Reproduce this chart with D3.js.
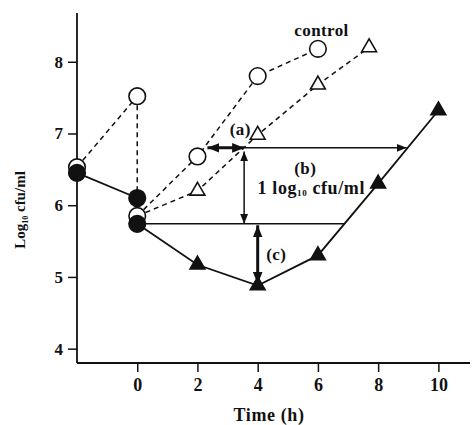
<!DOCTYPE html>
<html><head><meta charset="utf-8">
<script src="https://cdn.jsdelivr.net/npm/d3@7"></script>
<style>
body{margin:0;background:#fff;}
text{font-family:"Liberation Serif","DejaVu Serif",serif;font-weight:bold;fill:#111;}
</style></head>
<body><svg id="c" width="473" height="425"></svg>
<script>
// ---- data ----
const xTicks = [0, 2, 4, 6, 8, 10];
const yTicks = [4, 5, 6, 7, 8];
// pre-exposure / exposure (control) open circles, dashed
const ctrlPreT = [-2, 0];
const ctrlPreV = [6.53, 7.52];
const ctrlDropV = [7.52, 6.1];          // vertical dashed at t=0
// regrowth control, open circles, dashed
const ctrlT = [0, 2, 4, 6];
const ctrlV = [5.85, 6.68, 7.8, 8.18];
// open triangles, dashed
const openTriT = [0, 2, 4, 6, 7.7];
const openTriV = [5.85, 6.2, 6.98, 7.68, 8.2];
// filled circles, solid
const fillCircT = [-2, 0, 0];
const fillCircV = [6.45, 6.1, 5.74];
// filled triangles, solid
const fillTriT = [0, 2, 4, 6, 8, 10];
const fillTriV = [5.74, 5.17, 4.88, 5.3, 6.3, 7.32];
// annotation values
const refLevel = 5.74, refEnd = 6.88;
const aLevel = 6.8, aStart = 2.33, aEnd = 3.55, bEnd = 8.95;
const cTime = 4.0, cBottom = 4.9;

const svg = d3.select("#c");
const x = d3.scaleLinear().domain([-2, 11.05]).range([77, 470]);
const y = d3.scaleLinear().domain([3.8, 8.68]).range([363, 13]);

// arrow markers
const defs = svg.append("defs");
function mk(id, size){
  defs.append("marker").attr("id", id).attr("viewBox","0 0 10 10").attr("refX",10).attr("refY",5)
    .attr("markerWidth",size).attr("markerHeight",size).attr("orient","auto-start-reverse")
    .attr("markerUnits","userSpaceOnUse")
    .append("path").attr("d","M0,1 L10,5 L0,9 Z").attr("fill","#111");
}
mk("ah", 10); mk("ahb", 12);

// axes
const yAxis = d3.axisLeft(y).tickValues(yTicks).tickSize(9).tickPadding(5).tickFormat(d3.format("d"));
const xAxis = d3.axisBottom(x).tickValues(xTicks).tickSize(9).tickPadding(6).tickFormat(d3.format("d"));
const gy = svg.append("g").attr("transform", `translate(${x(-2)},0)`).call(yAxis);
const gx = svg.append("g").attr("transform", `translate(0,${y(3.8)})`).call(xAxis);
[gx, gy].forEach(g => {
  g.select(".domain").attr("d", null);
  g.selectAll(".tick line").attr("stroke","#111").attr("stroke-width",1.5);
  g.selectAll(".tick text").attr("fill","#111");
});
gy.selectAll(".tick text").style("font-size","17px");
gx.selectAll(".tick text").style("font-size","18px");
svg.append("line").attr("x1",x(-2)).attr("x2",x(-2)).attr("y1",y(8.68)).attr("y2",y(3.8))
  .attr("stroke","#111").attr("stroke-width",1.8);
svg.append("line").attr("x1",x(-2)).attr("x2",x(11.05)).attr("y1",y(3.8)).attr("y2",y(3.8))
  .attr("stroke","#111").attr("stroke-width",1.8);

// axis titles
svg.append("text").attr("x", 269).attr("y", 421).attr("text-anchor","middle")
  .style("font-size","18px").style("letter-spacing","0.6px").text("Time  (h)");
const yl = svg.append("text").attr("transform","translate(25,210) rotate(-90)").attr("text-anchor","middle")
  .style("font-size","15px");
yl.append("tspan").text("Log");
yl.append("tspan").style("font-size","8px").attr("dy",3).text("10");
yl.append("tspan").attr("dy",-3).text(" cfu/ml");

const line = d3.line().x(d => x(d[0])).y(d => y(d[1]));
const zip = (t, v) => t.map((d, i) => [d, v[i]]);
function path(data, dashed, w){
  svg.append("path").datum(data).attr("d", line).attr("fill","none").attr("stroke","#111")
    .attr("stroke-width", w || 1.5).attr("stroke-dasharray", dashed ? "5,4" : null);
}
path(zip(ctrlPreT, ctrlPreV), true);
path([[0, ctrlDropV[0]], [0, ctrlDropV[1]]], true);
path(zip(ctrlT, ctrlV), true);
path(zip(openTriT, openTriV), true);
path(zip(fillCircT, fillCircV), false, 1.8);
path(zip(fillTriT, fillTriV), false, 1.8);

// annotations
function seg(x1, y1, x2, y2, w, ms, me){
  svg.append("line").attr("x1",x(x1)).attr("y1",y(y1)).attr("x2",x(x2)).attr("y2",y(y2))
    .attr("stroke","#111").attr("stroke-width",w)
    .attr("marker-start", ms ? `url(#${ms})` : null).attr("marker-end", me ? `url(#${me})` : null);
}
seg(0, refLevel, refEnd, refLevel, 1.5);
seg(aEnd, aLevel, bEnd, aLevel, 1.5, null, "ah");
seg(aStart, aLevel, aEnd, aLevel, 3, "ahb", "ahb");
seg(aEnd, aLevel - 0.05, aEnd, refLevel, 1.5, "ah", "ah");
seg(cTime, refLevel - 0.02, cTime, cBottom, 3, "ahb", "ahb");

// markers
const tri = d3.symbol().type(d3.symbolTriangle).size(95);
function circles(data, filled){
  svg.selectAll(null).data(data).enter().append("circle")
    .attr("cx", d => x(d[0])).attr("cy", d => y(d[1])).attr("r", 8.3)
    .attr("fill", filled ? "#111" : "#fff").attr("stroke","#111").attr("stroke-width",1.6);
}
function triangles(data, filled){
  svg.selectAll(null).data(data).enter().append("path")
    .attr("d", tri).attr("transform", d => `translate(${x(d[0])},${y(d[1])})`)
    .attr("fill", filled ? "#111" : "#fff").attr("stroke","#111").attr("stroke-width",1.6);
}
circles(zip(ctrlPreT, ctrlPreV), false);
circles(zip(ctrlT, ctrlV), false);
triangles(zip(openTriT, openTriV).slice(1), false);
circles(zip(fillCircT, fillCircV), true);
triangles(zip(fillTriT, fillTriV).slice(1), true);

// labels
function lbl(t, v, s, size){
  return svg.append("text").attr("x", x(t)).attr("y", y(v)).attr("text-anchor","middle")
    .style("font-size", size + "px").style("letter-spacing","0.4px").text(s);
}
lbl(6.12, 8.36, "control", 17);
lbl(3.42, 6.98, "(a)", 17);
lbl(5.58, 6.43, "(b)", 17);
lbl(4.62, 5.24, "(c)", 17);
const lg = svg.append("text").attr("x", x(5.78)).attr("y", y(6.15)).attr("text-anchor","middle")
  .style("font-size","18px").style("letter-spacing","0.6px");
lg.append("tspan").text("1 log");
lg.append("tspan").style("font-size","9px").attr("dy",2).text("10");
lg.append("tspan").attr("dy",-2).text(" cfu/ml");
</script></body></html>
